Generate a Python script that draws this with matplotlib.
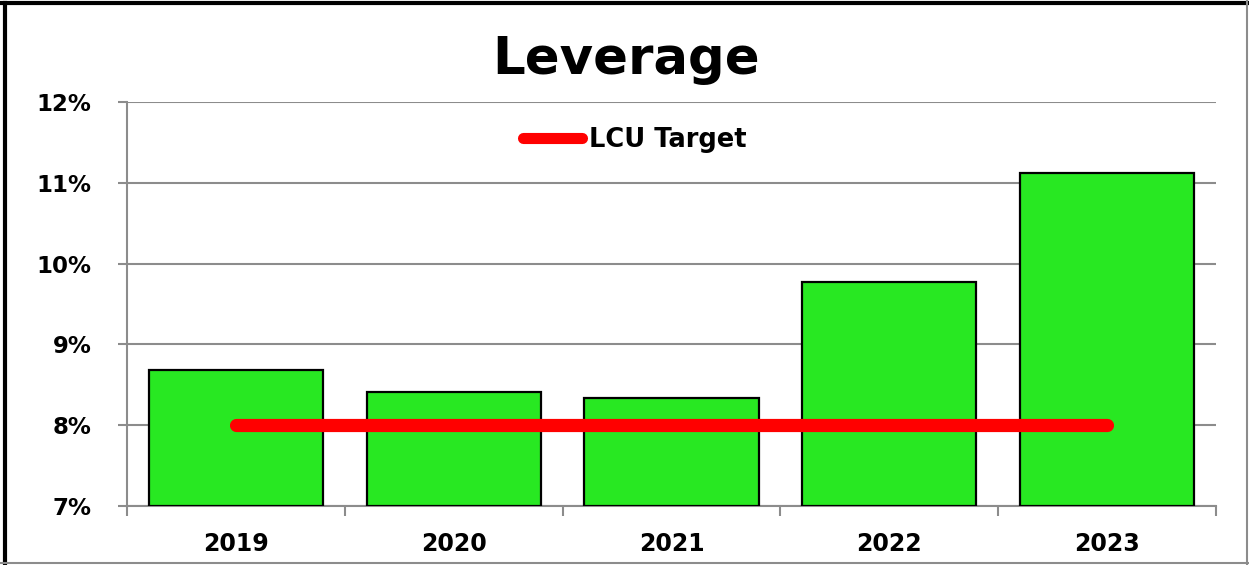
import matplotlib
matplotlib.use("Agg")
import matplotlib.pyplot as plt
from matplotlib.lines import Line2D
from matplotlib.ticker import FuncFormatter, FixedLocator
import numpy as np

years = ["2019", "2020", "2021", "2022", "2023"]
leverage = [8.68, 8.41, 8.34, 9.77, 11.12]
target = [8.0, 8.0, 8.0, 8.0, 8.0]
yticks = [7, 8, 9, 10, 11, 12]

plt.rcParams['font.family'] = ['DejaVu Sans']

fig = plt.figure(figsize=(12.49, 5.65), dpi=100)
ax = fig.add_axes([0.1017, 0.1044, 0.8719, 0.7151])

x = np.arange(len(years))
ax.bar(x, [v - 7 for v in leverage], bottom=7, width=0.8, color='#28E822',
       edgecolor='black', linewidth=1.6, zorder=3)
ax.plot(x, target, color='#FF0000', linewidth=9.5, solid_capstyle='round', zorder=4)

ax.set_xlim(-0.5, len(years) - 0.5)
ax.set_ylim(7, 12)
ax.set_yticks(yticks)
ax.yaxis.set_major_formatter(FuncFormatter(lambda v, p: f"{v:.0f}%"))
ax.grid(axis='y', color='#8C8C8C', linewidth=1.5, zorder=0)
ax.set_xticks(x)
ax.set_xticklabels(years, fontsize=17, fontweight='bold')
ax.xaxis.set_minor_locator(FixedLocator(np.arange(-0.5, len(years), 1.0)))
ax.tick_params(axis='x', which='major', length=0, pad=18.5)
ax.tick_params(axis='x', which='minor', length=7, width=1.5, color='#8C8C8C')
ax.tick_params(axis='y', length=6.5, width=1.5, color='#8C8C8C', pad=19)
for lab in ax.get_yticklabels():
    lab.set_fontsize(16.5)
    lab.set_fontweight('bold')

for s in ['top', 'right']:
    ax.spines[s].set_visible(False)
for s in ['left', 'bottom']:
    ax.spines[s].set_color('#8C8C8C')
    ax.spines[s].set_linewidth(1.5)

fig.text(0.5016, 0.894, "Leverage", ha='center', va='center', fontsize=37, fontweight='bold')

handle = Line2D([0], [0], color='#FF0000', linewidth=8, solid_capstyle='round')
leg = ax.legend([handle], ["LCU Target"], loc='center left', bbox_to_anchor=(0.3636, 0.906),
                frameon=False, borderpad=0, borderaxespad=0,
                handlelength=2.3, handletextpad=0.28,
                prop={'size': 18.5, 'weight': 'bold'})

# figure border
fig.add_artist(Line2D([0.004, 0.004], [0, 0.995], transform=fig.transFigure, color='black', linewidth=3.0))
fig.add_artist(Line2D([0.0, 1.0], [0.994, 0.994], transform=fig.transFigure, color='black', linewidth=3.0))
fig.add_artist(Line2D([0.998, 0.998], [0, 1], transform=fig.transFigure, color='#8C8C8C', linewidth=1.5))
fig.add_artist(Line2D([0, 1], [0.003, 0.003], transform=fig.transFigure, color='#8C8C8C', linewidth=1.5))

fig.savefig("out.png", dpi=100)
